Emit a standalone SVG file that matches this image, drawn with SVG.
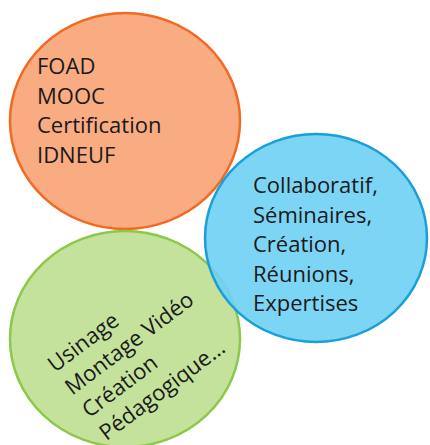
<svg xmlns="http://www.w3.org/2000/svg" width="430" height="445" viewBox="0 0 430 445">
<style>
.lbl{font-family:"Open Sans","Liberation Sans",sans-serif;font-size:22px;fill:#1a1a1a}
.c{stroke-width:2.5}
</style>
<rect width="430" height="445" fill="#ffffff"/>
<g id="orange">
<ellipse class="c" cx="125" cy="121" rx="115" ry="108" fill="#F9AB82" stroke="#F26A21"/>
<text class="lbl" x="37"><tspan x="37" y="74">FOAD</tspan><tspan x="37" y="103.5">MOOC</tspan><tspan x="37" y="133">Certification</tspan><tspan x="37" y="162.5">IDNEUF</tspan></text>
</g>
<g id="green">
<ellipse class="c" cx="125" cy="339" rx="115" ry="108" fill="#C5E29C" stroke="#8CC84A"/>
<text class="lbl" transform="translate(55,373) rotate(-37)"><tspan x="0" y="0">Usinage</tspan><tspan x="0" y="28.5">Montage Vidéo</tspan><tspan x="0" y="57">Création</tspan><tspan x="0" y="85.5">Pédagogique…</tspan></text>
</g>
<g id="blue">
<ellipse class="c" cx="316" cy="238" rx="111" ry="104" fill="#6ED0F4" stroke="#1A9FD8" fill-opacity="0.9"/>
<text class="lbl" x="253"><tspan x="253" y="193">Collaboratif,</tspan><tspan x="253" y="222.5">Séminaires,</tspan><tspan x="253" y="252">Création,</tspan><tspan x="253" y="281.5">Réunions,</tspan><tspan x="253" y="311">Expertises</tspan></text>
</g>
<g id="connectors"/>
</svg>
